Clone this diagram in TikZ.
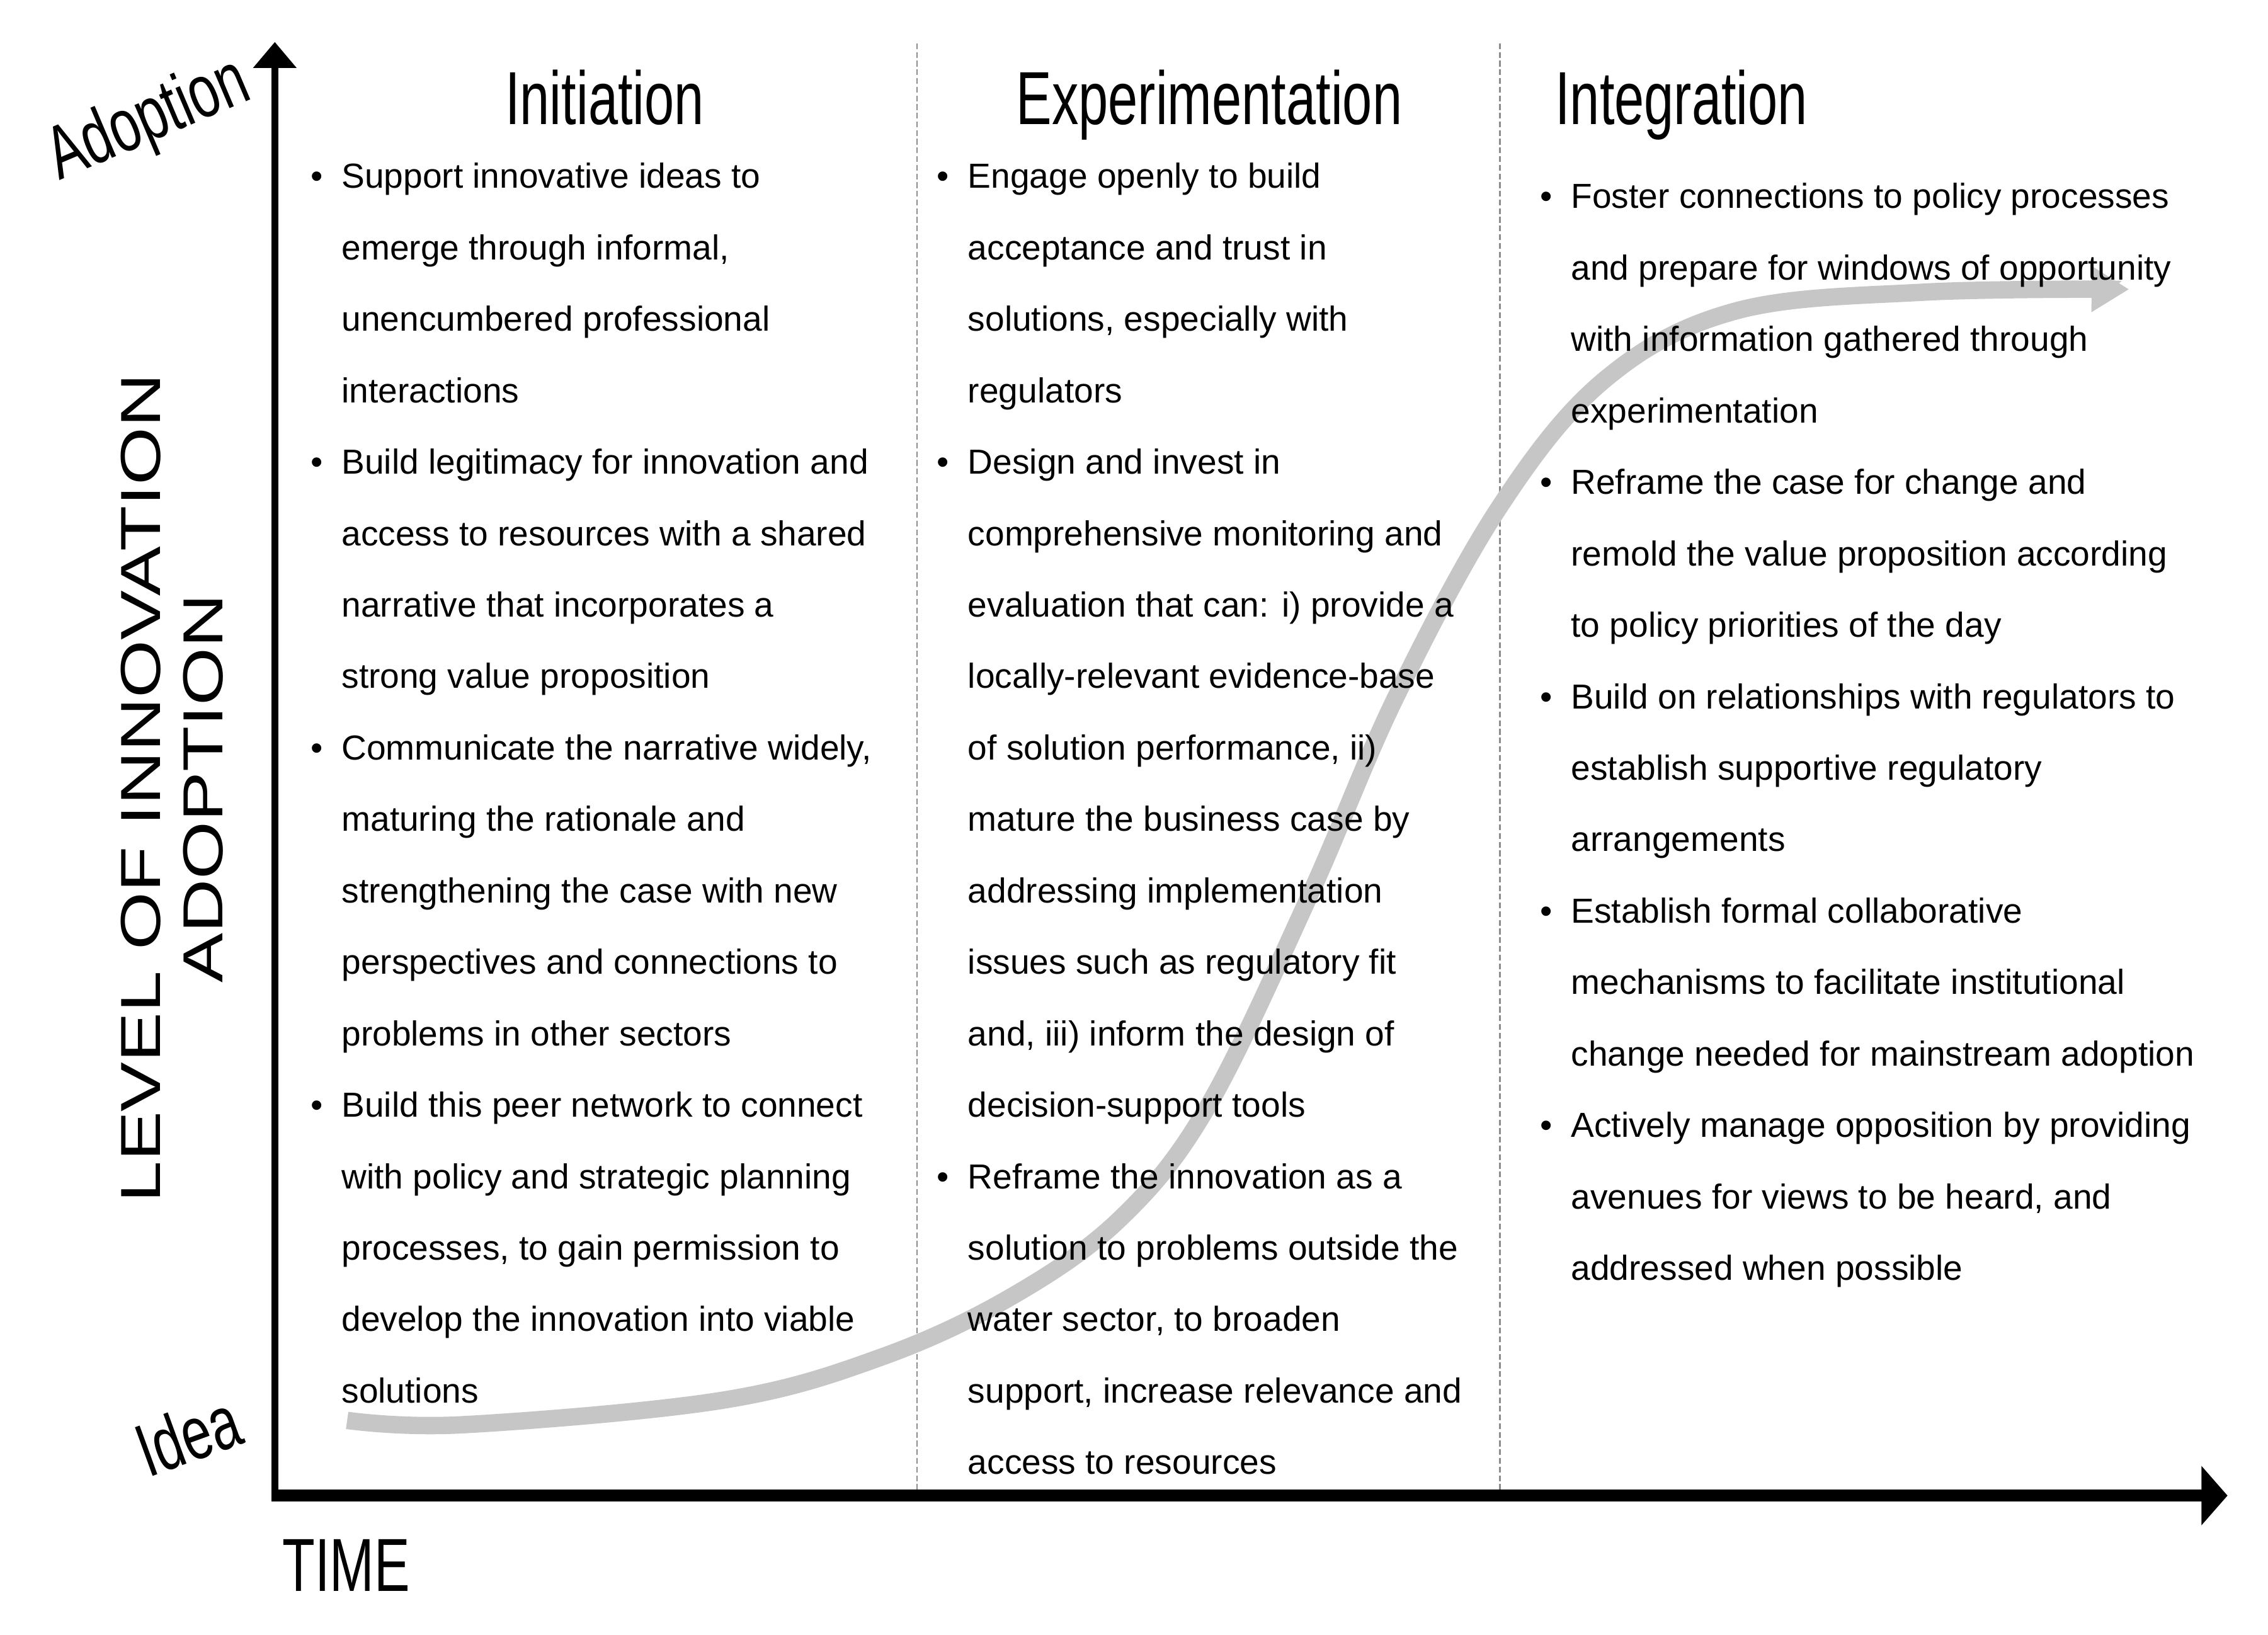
\documentclass[tikz,border=0pt]{standalone}
\usepackage{fontspec}
\setmainfont{Liberation Sans}
\newfontfamily\headfont{Liberation Sans}[FakeStretch=0.71]
\newfontfamily\widefont{Liberation Sans}[FakeStretch=1.32]
\definecolor{curvegray}{RGB}{198,198,198}
\definecolor{sepgray}{RGB}{140,140,140}
\usetikzlibrary{arrows.meta,positioning}
\newcommand{\bitem}{\llap{\textbullet\hspace{13pt}}}

\begin{document}
\begin{tikzpicture}[x=1pt, y=-1pt,
    headtxt/.style={font=\headfont\fontsize{52}{56}\selectfont, inner sep=0pt},
    bodytxt/.style={font=\fontsize{24}{49.4}\selectfont, align=left, inner sep=0pt, anchor=north west},
    sepline/.style={sepgray, line width=1.2pt, dash pattern=on 4pt off 2pt},
    curve/.style={curvegray, line width=12pt, -{Triangle[width=30pt,length=26pt]}}]
    \useasboundingbox (0,0) rectangle (1568,1130);

    % Axes
    \coordinate (origin) at (190,1034);
    \coordinate (ytop) at (190,29);
    \coordinate (xend) at (1540,1034);

    % Phase separators
    \draw[sepline] (634,30) -- (634,1030);
    \draw[sepline] (1037,30) -- (1037,1030);

    % S-curve
    \draw[curve] plot[smooth, tension=0.6] coordinates {(240,982) (320,985) (500,968) (610,938)
        (700,896) (775,842) (835,765) (905,620) (965,482) (1037,350) (1110,262) (1200,215)
        (1330,202) (1472,200)};

    \draw[line width=5pt, -{Triangle[width=29pt,length=18pt]}] (origin) -- (ytop);
    \draw[line width=8pt, -{Triangle[width=40pt,length=18pt]}] ([xshift=-2.5pt]origin) -- (xend);

    % Axis labels
    \node[headtxt, rotate=23] (adoption) at (103,84) {Adoption};
    \node[headtxt, rotate=20] (idea) at (130,992) {Idea};
    \node[headtxt, anchor=base west] (time) at (195,1100) {TIME};
    \node[font=\widefont\fontsize{39}{43}\selectfont, align=center, rotate=90, inner sep=0pt] (level) at (119,545)
        {LEVEL OF INNOVATION\\ADOPTION};

    % Phase headings
    \node[headtxt, anchor=base] (initiation) at (418,86) {Initiation};
    \node[headtxt, anchor=base] (experimentation) at (836,86) {Experimentation};
    \node[headtxt, anchor=base west] (integration) at (1075,86) {Integration};

    % Phase actions
    \node[bodytxt] (initlist) at (236,112.5) {\bitem Support innovative ideas to\\
        emerge through informal,\\
        unencumbered professional\\
        interactions\\
        \bitem Build legitimacy for innovation and\\
        access to resources with a shared\\
        narrative that incorporates a\\
        strong value proposition\\
        \bitem Communicate the narrative widely,\\
        maturing the rationale and\\
        strengthening the case with new\\
        perspectives and connections to\\
        problems in other sectors\\
        \bitem Build this peer network to connect\\
        with policy and strategic planning\\
        processes, to gain permission to\\
        develop the innovation into viable\\
        solutions};
    \node[bodytxt] (explist) at (669,112.5) {\bitem Engage openly to build\\
        acceptance and trust in\\
        solutions, especially with\\
        regulators\\
        \bitem Design and invest in\\
        comprehensive monitoring and\\
        evaluation that can: i) provide a\\
        locally-relevant evidence-base\\
        of solution performance, ii)\\
        mature the business case by\\
        addressing implementation\\
        issues such as regulatory fit\\
        and, iii) inform the design of\\
        decision-support tools\\
        \bitem Reframe the innovation as a\\
        solution to problems outside the\\
        water sector, to broaden\\
        support, increase relevance and\\
        access to resources};
    \node[bodytxt] (intlist) at (1086,126.5) {\bitem Foster connections to policy processes\\
        and prepare for windows of opportunity\\
        with information gathered through\\
        experimentation\\
        \bitem Reframe the case for change and\\
        remold the value proposition according\\
        to policy priorities of the day\\
        \bitem Build on relationships with regulators to\\
        establish supportive regulatory\\
        arrangements\\
        \bitem Establish formal collaborative\\
        mechanisms to facilitate institutional\\
        change needed for mainstream adoption\\
        \bitem Actively manage opposition by providing\\
        avenues for views to be heard, and\\
        addressed when possible};
\end{tikzpicture}
\end{document}
